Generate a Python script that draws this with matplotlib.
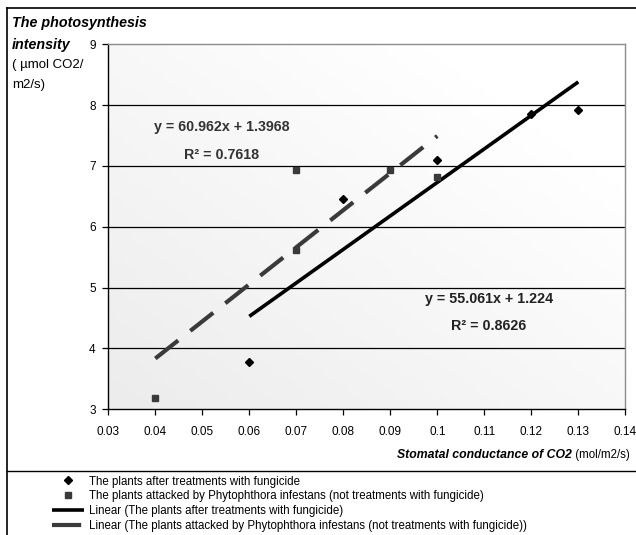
import numpy as np
import matplotlib
matplotlib.use("Agg")
import matplotlib.pyplot as plt
from matplotlib import font_manager as fm
from matplotlib.lines import Line2D

# ---------------- data ----------------
x_fungicide = [0.06, 0.08, 0.10, 0.12, 0.13]
y_fungicide = [3.77, 6.45, 7.10, 7.85, 7.92]
x_phyto = [0.04, 0.07, 0.07, 0.09, 0.10]
y_phyto = [3.19, 6.93, 5.62, 6.94, 6.82]

fit_fungicide = (55.061, 1.224)   # slope, intercept
fit_phyto = (60.962, 1.3968)
r2_fungicide = 0.8626
r2_phyto = 0.7618

x_ticks = [0.03, 0.04, 0.05, 0.06, 0.07, 0.08, 0.09, 0.10, 0.11, 0.12, 0.13, 0.14]
x_tick_labels = ["0.03", "0.04", "0.05", "0.06", "0.07", "0.08", "0.09", "0.1",
                 "0.11", "0.12", "0.13", "0.14"]
y_ticks = [3, 4, 5, 6, 7, 8, 9]

labels = [
    "The plants after treatments with fungicide",
    "The plants attacked by Phytophthora infestans (not treatments with fungicide)",
    "Linear (The plants after treatments with fungicide)",
    "Linear (The plants attacked by Phytophthora infestans (not treatments with fungicide))",
]

# ---------------- fonts ----------------
avail = {f.name for f in fm.fontManager.ttflist}
narrow = "Liberation Sans Narrow" if "Liberation Sans Narrow" in avail else "Liberation Sans"
plt.rcParams["font.family"] = [narrow, "DejaVu Sans"]

W, H = 636, 535
fig = plt.figure(figsize=(W / 100, H / 100), dpi=100)

def fx(px):
    return px / W

def fy(py):
    return 1 - py / H

# outer frame lines
fig.add_artist(Line2D([fx(7), fx(7)], [fy(8), 0], color="black", lw=1.2))
fig.add_artist(Line2D([fx(7), 1], [fy(8), fy(8)], color="black", lw=1.2))
fig.add_artist(Line2D([fx(7), 1], [fy(471), fy(471)], color="black", lw=1.0))

# axes
L, R, T, B = 108.3, 625.3, 44.3, 409.3
ax = fig.add_axes([fx(L), fy(B), (R - L) / W, (B - T) / H])

# gradient background
grad = np.linspace(0, 1, 256)
gx, gy = np.meshgrid(grad, grad)
g = 0.925 + 0.075 * np.clip((gx + (1 - gy)) / 1.6, 0, 1)
img = np.dstack([g, g, g])
ax.imshow(img, extent=[0, 1, 0, 1], transform=ax.transAxes, aspect="auto",
          zorder=0, origin="upper")

ax.set_xlim(0.03, 0.14)
ax.set_ylim(3, 9)

for yv in y_ticks[1:-1]:
    ax.axhline(yv, color="black", lw=0.9, zorder=1)

xs_f = np.array([min(x_fungicide), max(x_fungicide)])
xs_p = np.array([min(x_phyto), max(x_phyto)])

sc1, = ax.plot(x_fungicide, y_fungicide, linestyle="none", marker="D",
               markersize=4.2, color="black", zorder=4)
sc2, = ax.plot(x_phyto, y_phyto, linestyle="none", marker="s",
               markersize=5, color="#3a3a3a", zorder=4)
ln1, = ax.plot(xs_f, fit_fungicide[0] * xs_f + fit_fungicide[1], color="black",
               lw=2.6, solid_capstyle="butt", zorder=3)
ln2, = ax.plot(xs_p, fit_phyto[0] * xs_p + fit_phyto[1], color="#3a3a3a",
               lw=3.0, dashes=(7, 3.7), dash_capstyle="butt", zorder=3)

ax.set_xticks(x_ticks)
ax.set_xticklabels(x_tick_labels)
ax.set_yticks(y_ticks)
ax.tick_params(axis="both", direction="out", length=4, width=0.9,
               labelsize=8.5, color="black", pad=5)
ax.tick_params(axis="x", pad=8)

for s in ["top", "right"]:
    ax.spines[s].set_color("#8c8c8c")
    ax.spines[s].set_linewidth(1.0)
for s in ["left", "bottom"]:
    ax.spines[s].set_color("black")
    ax.spines[s].set_linewidth(1.0)

# regression annotations
ax.text(0.0541, 7.635, f"y = {fit_phyto[0]}x + {fit_phyto[1]}", ha="center",
        va="center", fontsize=10.3, fontweight="bold", color="#333333")
ax.text(0.0541, 7.18, f"R\u00b2 = {r2_phyto}", ha="center", va="center",
        fontsize=10.3, fontweight="bold", color="#333333")
ax.text(0.111, 4.82, f"y = {fit_fungicide[0]}x + {fit_fungicide[1]}", ha="center",
        va="center", fontsize=10.3, fontweight="bold", color="#222222")
ax.text(0.111, 4.37, f"R\u00b2 = {r2_fungicide}", ha="center", va="center",
        fontsize=10.3, fontweight="bold", color="#222222")

# y-axis title (top-left)
fig.text(fx(12), fy(23), "The photosynthesis", fontsize=10.3, fontweight="bold",
         fontstyle="italic", ha="left", va="center")
fig.text(fx(12), fy(45), "intensity", fontsize=10.3, fontweight="bold",
         fontstyle="italic", ha="left", va="center")
fig.text(fx(12), fy(65), "( \u00b5mol CO2/", fontsize=9.5, ha="left", va="center")
fig.text(fx(12), fy(85), "m2/s)", fontsize=9.5, ha="left", va="center")

# x-axis title
t2 = fig.text(fx(630), fy(455), " (mol/m2/s)", fontsize=8.3, ha="right", va="center")
fig.canvas.draw()
bb = t2.get_window_extent()
fig.text(bb.x0 / W, fy(455), "Stomatal conductance of CO2", fontsize=8.8,
         fontweight="bold", fontstyle="italic", ha="right", va="center")

# legend
fig.legend([sc1, sc2, ln1, ln2], labels, loc="upper left",
           bbox_to_anchor=(fx(52), fy(475.5)), frameon=False, fontsize=8.3,
           handlelength=2.8, handletextpad=0.45, labelspacing=0.26,
           borderpad=0, borderaxespad=0, markerscale=0.9)

fig.savefig("out.png", dpi=100)
